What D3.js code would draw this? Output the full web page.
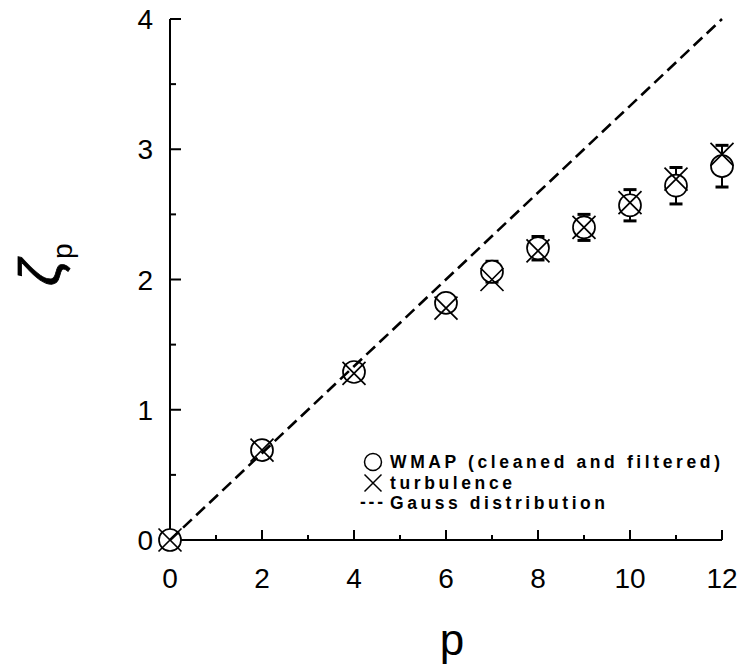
<!DOCTYPE html>
<html><head><meta charset="utf-8">
<script src="https://cdn.jsdelivr.net/npm/d3@7"></script>
<style>body{margin:0;background:#fff;} svg{display:block;}</style>
</head><body>
<svg id="chart" width="742" height="670"></svg>
<script>
const pValues   = [0, 2, 4, 6, 7, 8, 9, 10, 11, 12];
const wmapZeta  = [0, 0.69, 1.29, 1.82, 2.06, 2.24, 2.40, 2.57, 2.72, 2.87];
const wmapErr   = [0, 0, 0, 0.05, 0.08, 0.09, 0.10, 0.12, 0.14, 0.16];
const turbZeta  = [0, 0.69, 1.28, 1.78, 2.00, 2.22, 2.40, 2.59, 2.77, 2.96];
const gaussLine = [[0, 0], [12, 4]];
const xTickLabels = [0, 2, 4, 6, 8, 10, 12];
const yTickLabels = [0, 1, 2, 3, 4];
const legendItems = ["WMAP (cleaned and filtered)", "turbulence", "Gauss distribution"];

const svg = d3.select("#chart");
const x = d3.scaleLinear().domain([0, 12]).range([170, 722]);
const y = d3.scaleLinear().domain([0, 4]).range([540, 19]);
const font = "'Liberation Sans', Arial, Helvetica, sans-serif";

// Axes lines
svg.append("line").attr("x1", x(0)).attr("x2", x(12)).attr("y1", y(0)).attr("y2", y(0))
  .attr("stroke", "#000").attr("stroke-width", 2);
svg.append("line").attr("x1", x(0)).attr("x2", x(0)).attr("y1", y(0)).attr("y2", y(4))
  .attr("stroke", "#000").attr("stroke-width", 2);

// X ticks (inward)
const xTicks = d3.range(0, 13, 1);
svg.selectAll(".xt").data(xTicks).join("line")
  .attr("x1", d => x(d)).attr("x2", d => x(d))
  .attr("y1", y(0)).attr("y2", d => y(0) - (d % 2 === 0 ? 10 : 5))
  .attr("stroke", "#000").attr("stroke-width", 2);
svg.selectAll(".xl").data(xTickLabels).join("text")
  .attr("x", d => x(d)).attr("y", 588)
  .attr("text-anchor", "middle").attr("font-family", font).attr("font-size", 28)
  .text(d => d);

// Y ticks (inward)
const yTicks = d3.range(0, 4.01, 0.5);
svg.selectAll(".yt").data(yTicks).join("line")
  .attr("x1", x(0)).attr("x2", d => x(0) + (Number.isInteger(d) ? 11 : 6))
  .attr("y1", d => y(d)).attr("y2", d => y(d))
  .attr("stroke", "#000").attr("stroke-width", 2);
svg.selectAll(".yl").data(yTickLabels).join("text")
  .attr("x", 153).attr("y", d => y(d) + 10)
  .attr("text-anchor", "end").attr("font-family", font).attr("font-size", 28)
  .text(d => d);

// Axis titles
svg.append("text").attr("x", 452).attr("y", 655).attr("text-anchor", "middle")
  .attr("font-family", font).attr("font-size", 44).text("p");
const yt = svg.append("text").attr("transform", "translate(60,286) rotate(-90)")
  .attr("font-family", font);
yt.append("tspan").attr("font-size", 58).attr("font-style", "italic")
  .attr("stroke", "#000").attr("stroke-width", 0.8).text("ζ");
yt.append("tspan").attr("font-size", 28).attr("dy", 12).text("p");

const data = pValues.map((p, i) => ({p, w: wmapZeta[i], e: wmapErr[i], t: turbZeta[i]}));

// Error bars
const eb = svg.selectAll(".eb").data(data.filter(d => d.e > 0)).join("g");
eb.append("line").attr("x1", d => x(d.p)).attr("x2", d => x(d.p))
  .attr("y1", d => y(d.w - d.e)).attr("y2", d => y(d.w + d.e))
  .attr("stroke", "#000").attr("stroke-width", 2);
eb.append("line").attr("x1", d => x(d.p) - 6.5).attr("x2", d => x(d.p) + 6.5)
  .attr("y1", d => y(d.w + d.e)).attr("y2", d => y(d.w + d.e))
  .attr("stroke", "#000").attr("stroke-width", 3);
eb.append("line").attr("x1", d => x(d.p) - 6.5).attr("x2", d => x(d.p) + 6.5)
  .attr("y1", d => y(d.w - d.e)).attr("y2", d => y(d.w - d.e))
  .attr("stroke", "#000").attr("stroke-width", 3);

// WMAP circles (opaque, hiding the error-bar stem inside)
svg.selectAll(".wc").data(data).join("circle")
  .attr("cx", d => x(d.p)).attr("cy", d => y(d.w)).attr("r", 11)
  .attr("fill", "#fff").attr("stroke", "#000").attr("stroke-width", 1.7);

// Gauss dashed line (drawn over the markers)
svg.append("path")
  .attr("d", d3.line().x(d => x(d[0])).y(d => y(d[1]))(gaussLine))
  .attr("fill", "none").attr("stroke", "#000").attr("stroke-width", 2.6)
  .attr("stroke-dasharray", "12,6");

// Turbulence crosses
const cs = 11.5;
svg.selectAll(".tc").data(data).join("path")
  .attr("d", d => {
    const cx = x(d.p), cy = y(d.t);
    return `M${cx - cs},${cy - cs}L${cx + cs},${cy + cs}M${cx - cs},${cy + cs}L${cx + cs},${cy - cs}`;
  })
  .attr("fill", "none").attr("stroke", "#000").attr("stroke-width", 1.7);

// Legend
const lg = svg.append("g");
lg.append("circle").attr("cx", 373).attr("cy", 462).attr("r", 8.5)
  .attr("fill", "none").attr("stroke", "#000").attr("stroke-width", 1.5);
lg.append("path").attr("d", "M364.5,474.5L381.5,491.5M364.5,491.5L381.5,474.5")
  .attr("stroke", "#000").attr("stroke-width", 1.5).attr("fill", "none");
lg.append("text").attr("x", 360).attr("y", 508).attr("font-family", font)
  .attr("font-size", 17.5).attr("font-weight", "bold").attr("textLength", 23).text("---");
const legendY = [468, 489, 509];
const legendW = [330, 122, 215];
lg.selectAll(".lt").data(legendItems).join("text")
  .attr("x", 390).attr("y", (d, i) => legendY[i])
  .attr("font-family", font).attr("font-size", 17.5).attr("font-weight", "bold")
  .attr("textLength", (d, i) => legendW[i]).attr("lengthAdjust", "spacing")
  .text(d => d);
</script>
</body></html>
